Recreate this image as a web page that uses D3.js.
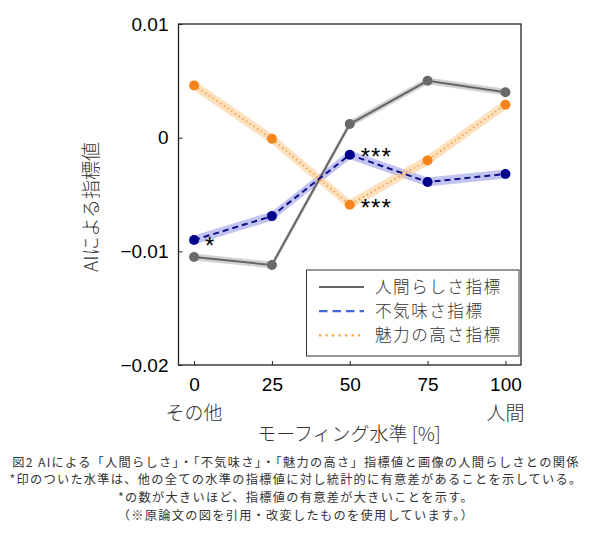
<!DOCTYPE html>
<html>
<head>
<meta charset="utf-8">
<script src="https://cdn.jsdelivr.net/npm/d3@7"></script>
<style>
  html, body { margin: 0; padding: 0; background: #fff; }
  #wrap { position: relative; width: 592px; height: 548px; }
  svg { display: block; position: absolute; left: 0; top: 0; }
  .cap { position: absolute; left: 0; width: 592px; text-align: center; white-space: nowrap;
         font-family: 'Noto Sans CJK JP', sans-serif; font-size: 12.2px; line-height: 17.7px;
         height: 17.7px; color: #333; letter-spacing: 1.3px; }
</style>
</head>
<body>
<div id="wrap"><svg id="chart" width="592" height="548"></svg></div>
<script>
// ---- data ----
const levels = [0, 25, 50, 75, 100];
const xTickLabels = ["0", "25", "50", "75", "100"];
const xEndLabels = ["その他", "人間"];
const yTicks = [0.01, 0, -0.01, -0.02];
const yTickLabels = ["0.01", "0", "\u22120.01", "\u22120.02"];
const seriesNames = ["人間らしさ指標", "不気味さ指標", "魅力の高さ指標"];
const humanValues = [-0.0105, -0.0112, 0.0012, 0.0050, 0.0040];
const eerieValues = [-0.0090, -0.0069, -0.0015, -0.0039, -0.0032];
const charmValues = [0.0046, -0.0001, -0.0059, -0.0020, 0.0029];
const humanErr = [0.0003, 0.0003, 0.0003, 0.0003, 0.0003];
const eerieErr = [0.0004, 0.0004, 0.0004, 0.0004, 0.0004];
const charmErr = [0.00045, 0.00045, 0.00045, 0.00045, 0.00045];
const starSeries = [1, 2, 1];
const starLevels = [50, 50, 0];
const starTexts = ["***", "***", "*"];
const captionLines = [
  "図2 AIによる「人間らしさ」・「不気味さ」・「魅力の高さ」指標値と画像の人間らしさとの関係",
  "*印のついた水準は、他の全ての水準の指標値に対し統計的に有意差があることを示している。",
  "*の数が大きいほど、指標値の有意差が大きいことを示す。",
  "（※原論文の図を引用・改変したものを使用しています。）"
];
const xLabel = "モーフィング水準 [%]";
const yLabel = "AIによる指標値";

// ---- layout / styles ----
const L = 178.5, R = 521, T = 24, B = 365;
const latin = "'Liberation Sans', Arial, 'Noto Sans CJK JP', sans-serif";
const jp = "'Noto Sans CJK JP', sans-serif";
const styles = [
  { line: "#666666", band: "#b5b5b5", bandOp: 0.6, marker: "#6a6a6a", dash: null, width: 2, legend: "#666666" },
  { line: "#10108a", band: "#7b7be0", bandOp: 0.45, marker: "#00008b", dash: "6,4", width: 2, legend: "#4466dd" },
  { line: "#f39a3a", band: "#fcc98a", bandOp: 0.55, marker: "#f5851a", dash: "1.5,3", width: 1.6, legend: "#f7a040" }
];
const values = [humanValues, eerieValues, charmValues];
const errs = [humanErr, eerieErr, charmErr];

const svg = d3.select("#chart");
const x = d3.scaleLinear().domain([-5, 105]).range([L, R]);
const y = d3.scaleLinear().domain([-0.02, 0.01]).range([B, T]);

// bands
values.forEach((vals, s) => {
  const data = levels.map((lv, i) => ({ x: lv, v: vals[i], e: errs[s][i] }));
  svg.append("path")
    .attr("d", d3.area().x(d => x(d.x)).y0(d => y(d.v - d.e)).y1(d => y(d.v + d.e))(data))
    .attr("fill", styles[s].band)
    .attr("fill-opacity", styles[s].bandOp)
    .attr("stroke", "none");
});
// lines + markers
values.forEach((vals, s) => {
  const data = levels.map((lv, i) => ({ x: lv, v: vals[i] }));
  const p = svg.append("path")
    .attr("d", d3.line().x(d => x(d.x)).y(d => y(d.v))(data))
    .attr("fill", "none")
    .attr("stroke", styles[s].line)
    .attr("stroke-width", styles[s].width);
  if (styles[s].dash) p.attr("stroke-dasharray", styles[s].dash);
  svg.selectAll(null).data(data).enter().append("circle")
    .attr("cx", d => x(d.x)).attr("cy", d => y(d.v)).attr("r", 5)
    .attr("fill", styles[s].marker);
});

// frame
svg.append("rect").attr("x", L).attr("y", T).attr("width", R - L).attr("height", B - T)
  .attr("fill", "none").attr("stroke", "#222").attr("stroke-width", 1.3);

// axes (ticks inward)
const xAxis = d3.axisBottom(x).tickValues(levels).tickFormat((d, i) => xTickLabels[i])
  .tickSizeInner(-4).tickSizeOuter(0).tickPadding(12);
const gx = svg.append("g").attr("transform", `translate(0,${B})`).call(xAxis);
gx.select(".domain").remove();
gx.selectAll("line").attr("stroke", "#222");
gx.selectAll("text").attr("font-family", latin).attr("font-size", 19).attr("fill", "#000")
  .attr("y", 13).attr("dy", "0.71em");

const yAxis = d3.axisLeft(y).tickValues(yTicks).tickFormat((d, i) => yTickLabels[i])
  .tickSizeInner(-4).tickSizeOuter(0).tickPadding(10);
const gy = svg.append("g").attr("transform", `translate(${L},0)`).call(yAxis);
gy.select(".domain").remove();
gy.selectAll("line").attr("stroke", "#222");
gy.selectAll("text").attr("font-family", latin).attr("font-size", 19).attr("fill", "#000")
  .attr("x", -10);

// x end labels
const jpText = (sel) => sel.attr("font-family", jp).attr("font-weight", 300).attr("fill", "#333");
svg.append("text").attr("x", x(levels[0])).attr("y", 413).attr("dy", "0.35em")
  .attr("text-anchor", "middle").attr("font-size", 19).call(jpText).text(xEndLabels[0]);
svg.append("text").attr("x", x(levels[4])).attr("y", 413).attr("dy", "0.35em")
  .attr("text-anchor", "middle").attr("font-size", 19).call(jpText).text(xEndLabels[1]);
// axis titles
svg.append("text").attr("x", 349).attr("y", 434).attr("dy", "0.35em")
  .attr("text-anchor", "middle").attr("font-size", 19).call(jpText).text(xLabel);
svg.append("text").attr("transform", "translate(91,207) rotate(-90)").attr("dy", "0.35em")
  .attr("text-anchor", "middle").attr("font-size", 19).call(jpText).text(yLabel);

// stars
starTexts.forEach((t, i) => {
  const s = starSeries[i];
  const idx = levels.indexOf(starLevels[i]);
  const px = x(starLevels[i]), py = y(values[s][idx]);
  const offs = [[11, 10], [11, 11], [11, 14]][i];
  svg.append("text").attr("x", px + offs[0]).attr("y", py + offs[1])
    .attr("font-family", latin).attr("font-size", 24).attr("letter-spacing", 1)
    .attr("fill", "#000").text(t);
});

// legend
const lg = svg.append("g");
lg.append("rect").attr("x", 306.5).attr("y", 270).attr("width", 212.5).attr("height", 86)
  .attr("fill", "#fff").attr("fill-opacity", 0.9).attr("stroke", "#333").attr("stroke-width", 1);
const legY = [287, 311.2, 335.4];
seriesNames.forEach((n, i) => {
  const ln = lg.append("line").attr("x1", 319).attr("x2", 364).attr("y1", legY[i]).attr("y2", legY[i])
    .attr("stroke", styles[i].legend).attr("stroke-width", 2.2);
  if (i === 1) ln.attr("stroke-dasharray", "8.5,5");
  if (i === 2) ln.attr("stroke-dasharray", "2.2,4.3");
  lg.append("text").attr("x", 375).attr("y", legY[i]).attr("dy", "0.35em")
    .attr("font-size", 16.6).attr("letter-spacing", 1.5).call(jpText).text(n);
});

// caption (HTML lines with fixed line boxes)
const capTop = [453.6, 471.3, 489.0, 506.7];
d3.select("#wrap").selectAll("div.cap").data(captionLines).enter().append("div")
  .attr("class", "cap")
  .style("top", (d, i) => capTop[i] + "px")
  .text(d => d);
</script>
</body>
</html>
